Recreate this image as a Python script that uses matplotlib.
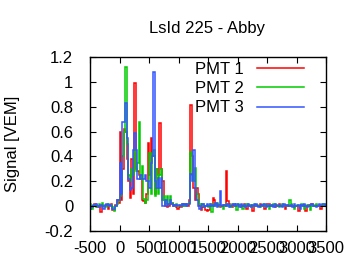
import numpy as np
import matplotlib
matplotlib.use("Agg")
import matplotlib.pyplot as plt
from matplotlib.ticker import FuncFormatter

# ---- data: 25 ns bins starting at -500 ns ----
t_start = -500
bin_width = 25

pmt1 = [
    -0.02, 0.00, 0.00, 0.02, 0.01, -0.01, 0.00, -0.05, 0.01, 0.00,
    0.00, 0.01, -0.02, 0.01, 0.02, -0.03, -0.03, 0.01, 0.05, 0.03,
    0.60, 0.05, 0.30, 0.62, 0.60, 0.38, 0.20, 0.07, 0.38, 0.10,
    0.99, 0.30, 0.28, 0.25, 0.22, 0.05, 0.04, 0.03, 0.10, 0.51,
    0.25, 0.55, 0.40, 0.40, 0.10, 0.30, 0.25, 0.67, 0.30, 0.20,
    0.05, 0.00, -0.01, 0.00, 0.02, 0.03, 0.00, 0.01, -0.01, -0.02,
    0.00, -0.01, 0.02, 0.00, 0.02, 0.01, 0.00, 0.05, 0.81, 0.40,
    0.15, 0.05, 0.15, 0.10, 0.00, -0.03, -0.01, 0.00, -0.03, -0.04,
    -0.03, 0.00, 0.01, 0.07, 0.05, 0.01, 0.02, 0.00, -0.01, 0.00,
    0.01, 0.00, 0.28, 0.04, 0.02, 0.00, -0.01, 0.01, 0.00, 0.00,
    0.00, 0.01, -0.01, 0.00, 0.02, 0.00, -0.02, 0.01, 0.00, 0.01,
    -0.04, 0.00, 0.01, 0.00, 0.00, 0.02, 0.01, 0.00, -0.02, 0.00,
    0.02, 0.02, 0.00, 0.01, 0.00, -0.01, 0.01, 0.00, 0.02, 0.00,
    0.01, 0.00, -0.02, 0.00, 0.01, 0.00, 0.01, 0.00, -0.01, 0.00,
    0.00, -0.04, 0.00, 0.01, 0.00, 0.01, -0.04, 0.00, 0.01, 0.00,
    0.02, 0.00, 0.00, 0.01, 0.00, 0.01, -0.02, 0.00, 0.01, 0.01,
]
pmt2 = [
    0.02, -0.02, 0.00, 0.01, -0.01, 0.00, 0.02, 0.00, 0.03, 0.00,
    -0.01, 0.00, 0.02, 0.00, 0.01, -0.01, -0.04, 0.00, 0.02, 0.05,
    0.08, 0.10, 0.40, 0.60, 1.12, 0.50, 0.25, 0.20, 0.30, 0.25,
    0.45, 0.28, 0.35, 0.68, 0.22, 0.32, 0.06, 0.03, 0.05, 0.20,
    0.43, 0.10, 0.40, 0.45, 0.08, 0.30, 0.10, 0.25, 0.30, 0.05,
    0.08, 0.02, 0.08, 0.02, 0.08, 0.03, 0.01, 0.00, 0.02, 0.00,
    0.00, 0.01, 0.00, 0.02, 0.00, 0.01, 0.02, 0.03, 0.44, 0.25,
    0.20, 0.31, 0.10, 0.05, 0.02, 0.00, 0.02, -0.01, 0.00, 0.01,
    -0.01, 0.02, -0.05, 0.02, 0.01, 0.00, 0.03, 0.00, 0.01, 0.00,
    -0.02, 0.01, 0.02, 0.00, 0.01, -0.01, 0.02, 0.02, 0.00, -0.03,
    0.02, 0.00, 0.01, -0.02, 0.00, 0.01, 0.02, 0.00, 0.01, -0.01,
    0.00, 0.02, 0.00, 0.01, 0.00, -0.01, 0.00, 0.02, 0.00, 0.01,
    0.00, -0.02, 0.01, 0.00, 0.02, 0.00, 0.01, 0.00, -0.01, 0.00,
    0.02, 0.00, 0.01, 0.00, 0.00, 0.05, 0.02, 0.00, -0.02, 0.00,
    0.01, 0.00, 0.00, 0.02, 0.00, -0.02, 0.00, 0.01, 0.00, -0.03,
    0.00, 0.01, 0.00, 0.02, 0.00, 0.00, 0.01, 0.00, 0.02, 0.01,
]
pmt3 = [
    -0.02, -0.01, 0.01, 0.00, 0.02, 0.00, -0.01, 0.01, 0.00, -0.02,
    0.01, 0.02, 0.00, 0.01, 0.00, -0.02, -0.02, 0.00, 0.05, 0.05,
    0.35, 0.10, 0.68, 0.68, 0.83, 0.55, 0.22, 0.13, 0.15, 0.45,
    0.59, 0.45, 0.22, 0.22, 0.25, 0.22, 0.22, 0.25, 0.20, 0.20,
    0.15, 0.35, 0.40, 1.08, 0.20, 0.15, 0.23, 0.15, 0.23, 0.00,
    0.00, 0.05, 0.00, 0.02, 0.05, 0.02, 0.00, 0.01, 0.00, 0.01,
    0.01, 0.00, 0.02, 0.01, 0.02, 0.00, 0.02, 0.02, 0.26, 0.20,
    0.45, 0.15, 0.05, 0.00, -0.02, 0.00, 0.02, -0.01, 0.00, 0.02,
    0.00, 0.02, 0.00, 0.01, 0.00, 0.03, -0.01, 0.01, 0.12, 0.00,
    0.01, 0.01, 0.00, 0.02, -0.01, 0.00, 0.01, 0.02, 0.00, 0.02,
    0.01, -0.01, 0.02, 0.00, 0.01, -0.01, 0.00, 0.02, 0.00, -0.01,
    0.01, 0.00, 0.02, 0.00, -0.01, 0.00, 0.01, 0.00, 0.02, -0.01,
    0.00, 0.01, 0.00, 0.01, -0.01, 0.02, 0.00, 0.00, 0.01, 0.00,
    -0.01, 0.02, 0.00, 0.01, 0.00, 0.00, 0.01, -0.01, 0.02, 0.00,
    0.00, 0.01, -0.02, 0.01, 0.00, 0.02, 0.00, -0.01, 0.00, 0.01,
    0.02, 0.00, 0.00, -0.01, 0.00, 0.02, 0.00, 0.02, 0.02, 0.00,
]
labels = ["PMT 1", "PMT 2", "PMT 3"]
colors = ["#ff0000", "#00cc00", "#3355ff"]
title = "LsId 225 - Abby"
ylabel = "Signal [VEM]"
xticks = [-500, 0, 500, 1000, 1500, 2000, 2500, 3000, 3500]
yticks = [-0.2, 0, 0.2, 0.4, 0.6, 0.8, 1.0, 1.2]

plt.rcParams["font.family"] = ["Liberation Sans", "DejaVu Sans"]
FS = 12
fig = plt.figure(figsize=(3.6, 2.7), dpi=100)
ax_rect = [0.25, 0.144, 0.656, 0.645]
ax = fig.add_axes(ax_rect)

for vals, lab, col in zip([pmt1, pmt2, pmt3], labels, colors):
    edges = t_start + bin_width * np.arange(len(vals) + 1)
    ax.stairs(vals, edges, color=col, lw=1.1, label=lab, baseline=None)

ax.set_xlim(-500, 3500)
ax.set_ylim(-0.2, 1.2)
ax.set_xticks(xticks)
ax.set_yticks(yticks)
fmt = FuncFormatter(lambda v, p: "%g" % round(v, 6))
ax.xaxis.set_major_formatter(fmt)
ax.yaxis.set_major_formatter(fmt)
ax.tick_params(direction="in", top=True, right=True, length=4, width=0.8,
               labelsize=FS, colors="black")
ax.tick_params(axis="y", pad=12)
ax.tick_params(axis="x", pad=7)
for s in ax.spines.values():
    s.set_linewidth(1.0)

fig.text(0.575, 0.893, title, ha="center", va="center", fontsize=FS,
         color="black")
fig.text(0.036, ax_rect[1] + ax_rect[3] / 2, ylabel, rotation=90,
         ha="center", va="center", fontsize=FS, color="black")

leg = ax.legend(loc="upper right", frameon=False, markerfirst=False,
                fontsize=FS, handlelength=2.8, handletextpad=0.8,
                labelspacing=0.25, borderaxespad=0.0, borderpad=0.2,
                bbox_to_anchor=(0.92, 0.99))

fig.savefig("out.png", dpi=100)
